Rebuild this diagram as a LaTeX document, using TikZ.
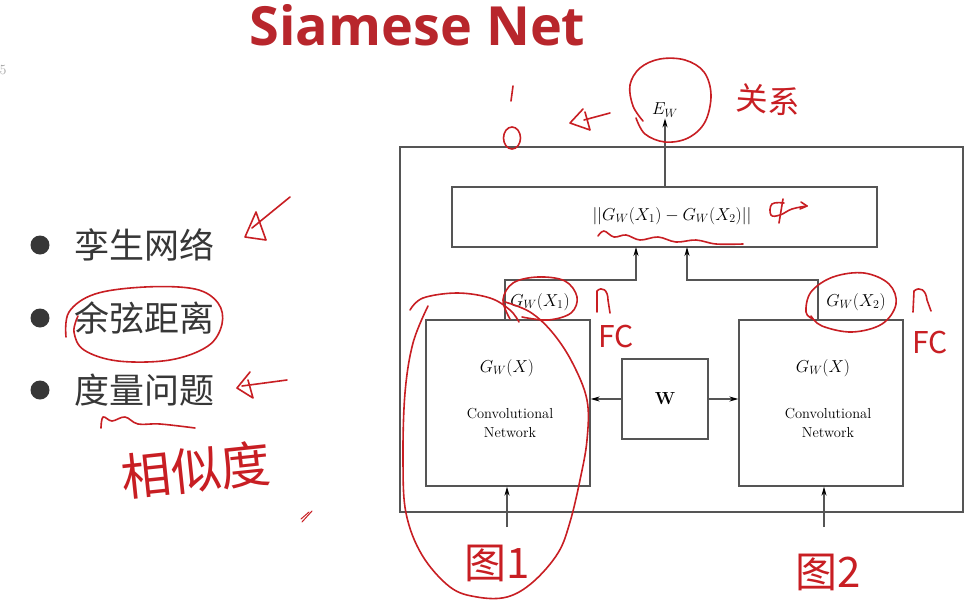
\documentclass[tikz,border=0pt]{standalone}
\usepackage{fontspec}
\usetikzlibrary{arrows.meta}
\newfontfamily\titlefont{Open Sans}
\newfontfamily\cjk{Noto Sans CJK SC}
\definecolor{titlered}{RGB}{184,38,44}
\definecolor{ink}{RGB}{200,30,35}
\definecolor{framegray}{RGB}{85,85,85}
\definecolor{bul}{RGB}{55,55,55}
\begin{document}
\begin{tikzpicture}[x=1pt,y=-1pt,
  box/.style={draw=framegray,line width=1.3pt,inner sep=0pt},
  conn/.style={draw=framegray,line width=1.2pt},
  arr/.style={conn,-{Stealth[length=9pt,width=5pt,color=black]}},
  hand/.style={draw=ink,line width=1.6pt,line cap=round,line join=round},
  handtext/.style={text=ink,inner sep=0pt},
  mathtxt/.style={font=\fontsize{17.5}{20}\selectfont,inner sep=1pt},
  plaintxt/.style={font=\fontsize{14.5}{19}\selectfont,align=center,inner sep=0pt},
  bullettxt/.style={anchor=west,text=bul,font=\cjk\fontsize{35}{35}\selectfont,inner sep=0pt},
]
\useasboundingbox (0,0) rectangle (977,613);
\fill[white] (0,0) rectangle (977,613);

% title and page mark
\node[anchor=base,text=titlered,font=\titlefont\bfseries\fontsize{54}{54}\selectfont,inner sep=0pt] (title) at (417.5,45) {Siamese Net};
\node[text=gray!70,font=\fontsize{14}{14}\selectfont,inner sep=0pt] (pg) at (3,70) {5};

% bullets
\fill[bul] (40,245) circle (9.5);
\fill[bul] (40,318) circle (9.5);
\fill[bul] (40,390) circle (9.5);
\node[bullettxt] (b1) at (74,245) {孪生网络};
\node[bullettxt] (b2) at (74,318) {余弦距离};
\node[bullettxt] (b3) at (74,390) {度量问题};

% diagram boxes
\node[box,minimum width=563pt,minimum height=365pt] (outer) at (681.5,329.5) {};
\node[box,minimum width=425pt,minimum height=60pt] (dist) at (664.5,217) {};
\node[mathtxt] (formula) at (672,216) {$||G_W(X_1)-G_W(X_2)||$};
\node[box,minimum width=164pt,minimum height=166pt] (lconv) at (508,403) {};
\node[box,minimum width=164pt,minimum height=166pt] (rconv) at (821,403) {};
\node[box,minimum width=86pt,minimum height=80pt,font=\fontsize{17.5}{17.5}\selectfont\bfseries] (wbox) at (665,399) {W};

\node[mathtxt] (lg) at (507,368) {$G_W(X)$};
\node[plaintxt] (lcn) at (510,423) {Convolutional\\Network};
\node[mathtxt] (rg) at (823,368) {$G_W(X)$};
\node[plaintxt] (rcn) at (828,423) {Convolutional\\Network};

\node[mathtxt] (ew) at (665,110) {$E_W$};
\node[mathtxt] (g1) at (540,302) {$G_W(X_1)$};
\node[mathtxt] (g2) at (856,302) {$G_W(X_2)$};

% connectors
\coordinate (lb) at (505,320);
\coordinate (lc) at (505,280);
\coordinate (rb) at (818,320);
\coordinate (rc) at (818,280);
\coordinate (din1) at (636,247);
\coordinate (din2) at (687,247);
\coordinate (in1) at (507,527);
\coordinate (in2) at (824,527);

\draw[arr] (dist.north -| ew) -- (ew.south);
\draw[arr] (lb) -- (lc) -| (din1);
\draw[arr] (rb) -- (rc) -| (din2);
\draw[arr] (wbox.west) -- (wbox.west -| lconv.east);
\draw[arr] (wbox.east) -- (wbox.east -| rconv.west);
\draw[arr] (in1) -- (in1 |- lconv.south);
\draw[arr] (in2) -- (in2 |- rconv.south);

% ---- red handwritten annotations ----
\draw[hand] (513,86) -- (511,101);
\draw[hand] (512,138) ellipse (8.5 and 11);
\draw[hand] (583,109) -- (570,123) -- (590,130) -- (585,112);
\draw[hand] (584,120) -- (610,113);
\draw[hand] plot[smooth,tension=0.6] coordinates {(643,121)(633,106)(630,85)(640,68)(660,59)(685,60)(704,72)(711,95)(705,122)(688,138)(665,142)(645,134)(636,118)};
\node[handtext,font=\cjk\fontsize{32}{32}\selectfont,rotate=-4] (guanxi) at (768,100) {关系};
\draw[hand] (783,199) -- (779,223);
\draw[hand] plot[smooth,tension=0.7] coordinates {(784,203)(772,204)(771,215)(780,215)(792,209)(807,206)};
\draw[hand] (801,202) -- (807,206) -- (800,209);
\draw[hand] plot[smooth,tension=0.6] coordinates {(598,236)(604,231)(614,237)(626,235)(640,240)(658,237)(676,242)(696,240)(716,244)(743,244)};

\draw[hand] (290,197) -- (252,228);
\draw[hand] (256,212) -- (245,237) -- (266,240) -- cycle;
\draw[hand] plot[smooth,tension=0.6] coordinates {(66,337)(69,312)(95,294)(145,287)(195,289)(218,303)(222,324)(208,346)(170,360)(118,361)(84,350)(74,332)(78,316)};
\draw[hand] (250,372) -- (237,388) -- (253,398) -- (248,380);
\draw[hand] (242,386) -- (287,380);
\draw[hand] plot[smooth,tension=0.6] coordinates {(101,428)(103,417)(112,421)(125,417)(138,424)(160,424)(195,428)};
\node[handtext,font=\cjk\fontsize{50}{50}\selectfont,rotate=6] (xiangsi) at (196,470) {相似度};
\draw[hand,line width=1pt] (312,511) -- (302,522);
\draw[hand,line width=1pt] (309,512) -- (301,519);

\draw[hand] plot[smooth,tension=0.6] coordinates {(410,310)(423,298)(457,293)(490,298)(510,310)(519,322)};
\draw[hand] plot[smooth,tension=0.6] coordinates {(505,302)(530,312)(552,332)(572,362)(587,400)(587,440)(580,480)(570,522)(558,553)(533,582)(507,597)(477,597)(450,587)(422,555)(406,513)(403,460)(405,393)(413,343)(428,306)};
\draw[hand] plot[smooth,tension=0.6] coordinates {(510,319)(503,300)(513,283)(538,277)(565,281)(577,297)(571,313)(548,320)(522,317)};
\draw[hand] (597,312) -- (597,291) .. controls (602,286) and (608,290) .. (608,300) -- (610,313);
\node[handtext,font=\cjk\fontsize{30}{30}\selectfont] (fc1) at (616,337) {FC};
\draw[hand] plot[smooth,tension=0.6] coordinates {(813,319)(806,312)(811,292)(833,277)(864,273)(889,284)(896,304)(882,324)(852,332)(822,326)(811,316)};
\draw[hand] (913,312) -- (914,291) .. controls (920,286) and (926,290) .. (927,300) -- (931,311);
\node[handtext,font=\cjk\fontsize{30}{30}\selectfont] (fc2) at (930,343) {FC};

\node[handtext,font=\cjk\fontsize{42}{42}\selectfont] (img1) at (497,563) {图1};
\node[handtext,font=\cjk\fontsize{42}{42}\selectfont] (img2) at (828,572) {图2};
\end{tikzpicture}
\end{document}
